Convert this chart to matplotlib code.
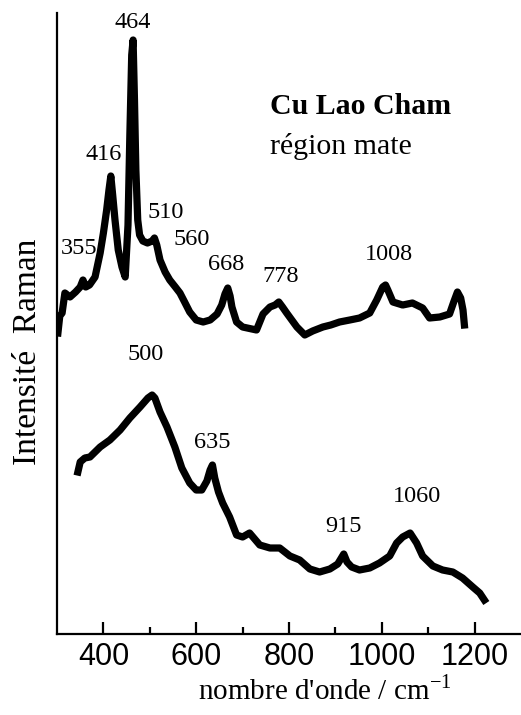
import matplotlib.pyplot as plt

# --------------------------------------------------
# Data (arbitrary intensity units)
# --------------------------------------------------
wn_mate = [302, 306, 311, 317, 328, 340, 350, 356, 362, 370, 382, 393, 400,
           407, 412, 416, 420, 425, 432, 440, 447, 453, 457, 461, 464, 467,
           470, 474, 478, 485, 495, 505, 510, 515, 522, 533, 543, 555, 565,
           575, 586, 600, 615, 630, 645, 655, 662, 668, 673, 677, 687, 700,
           710, 730, 744, 759, 770, 778, 786, 795, 806, 817, 834, 851, 873,
           890, 909, 931, 952, 974, 989, 1002, 1008, 1013, 1024, 1045, 1066,
           1088, 1103, 1125, 1146, 1155, 1163, 1170, 1175, 1178]
int_mate = [301, 318, 321, 341, 337, 342, 347, 354, 347, 349, 357, 381, 401,
            424, 444, 458, 439, 414, 384, 367, 357, 409, 499, 579, 594, 534,
            464, 414, 399, 393, 391, 393, 396, 389, 374, 362, 354, 347, 341,
            332, 322, 314, 312, 314, 320, 329, 340, 346, 338, 327, 312, 307,
            306, 304, 320, 327, 329, 332, 327, 321, 314, 307, 299, 303, 307,
            309, 312, 314, 316, 321, 334, 347, 349, 344, 332, 329, 331,
            326, 316, 317, 320, 332, 342, 336, 324, 309]

wn_low = [345, 350, 360, 371, 393, 414, 436, 457, 479, 496, 505, 511, 522,
          537, 554, 569, 586, 600, 612, 623, 630, 635, 640, 648, 657, 672,
          687, 700, 715, 737, 759, 780, 802, 823, 845, 866, 888, 905, 918,
          925, 935, 952, 974, 995, 1017, 1032, 1045, 1061, 1075, 1088, 1110,
          1131, 1153, 1174, 1196, 1211, 1221]
int_low = [162, 172, 176, 177, 187, 194, 204, 216, 227, 236, 239, 236, 222,
           207, 187, 166, 151, 144, 144, 153, 164, 169, 156, 142, 131, 117,
           99, 97, 101, 89, 86, 86, 78, 74, 65, 62, 65, 70, 80,
           72, 67, 64, 66, 71, 78, 91, 97, 101, 91, 78, 68,
           64, 62, 56, 47, 41, 34]

peaks_mate = ["355", "416", "464", "510", "560", "668", "778", "1008"]
peaks_low = ["500", "635", "915", "1060"]

xticks_major = [400, 600, 800, 1000, 1200]
xticks_minor = [500, 700, 900, 1100]

# --------------------------------------------------
# Figure
# --------------------------------------------------
serif = "Liberation Serif"
sans = "Liberation Sans"

fig = plt.figure(figsize=(5.21, 7.15), dpi=100)
ax = fig.add_axes([57 / 521, 81 / 715, 464 / 521, 621 / 715])

# the scanned traces are thick noisy bands, so draw them heavy
ax.plot(wn_mate, int_mate, color="black", lw=5.2, solid_joinstyle="round")
ax.plot(wn_low, int_low, color="black", lw=5.2, solid_joinstyle="round")

ax.set_xlim(300, 1300)
ax.set_ylim(0, 621)

for s in ["top", "right"]:
    ax.spines[s].set_visible(False)
for s in ["left", "bottom"]:
    ax.spines[s].set_linewidth(1.6)

ax.set_yticks([])
ax.set_xticks(xticks_major)
ax.set_xticks(xticks_minor, minor=True)
ax.tick_params(axis="x", which="major", direction="in", length=9, width=1.6,
               pad=6, labelsize=22)
ax.tick_params(axis="x", which="minor", direction="in", length=5, width=1.6)
for lab in ax.get_xticklabels():
    lab.set_family(sans)

# peak labels (pixel positions of the label centres in the figure)
label_pix_mate = [(79, 248), (104, 155), (133, 23), (166, 212), (192, 240),
                  (226, 265), (281, 277), (389, 254)]
label_pix_low = [(146, 355), (212, 443), (344, 527), (417, 496)]
for txt, (px, py) in zip(peaks_mate + peaks_low, label_pix_mate + label_pix_low):
    fig.text(px / 521, 1 - py / 715, txt, family=serif, fontsize=17.5,
             ha="center", va="center")

fig.text(270 / 521, 1 - 106 / 715, "Cu Lao Cham", family=serif,
         fontsize=21.5, fontweight="bold", ha="left", va="center")
fig.text(270 / 521, 1 - 146 / 715, "région mate", family=serif,
         fontsize=21.5, ha="left", va="center")

fig.text(28 / 521, 1 - 352 / 715, "Intensité  Raman", family=serif,
         fontsize=24, rotation=90, ha="center", va="center")
fig.text(325 / 521, 1 - 690 / 715, "nombre d'onde / cm$^{\\mathregular{-1}}$",
         family=serif, fontsize=21, ha="center", va="center")

fig.savefig("out.png", dpi=100)
